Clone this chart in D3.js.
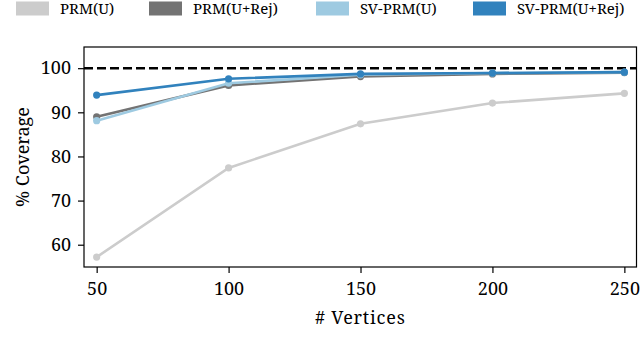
<!DOCTYPE html>
<html>
<head>
<meta charset="utf-8">
<script src="https://cdn.jsdelivr.net/npm/d3@7"></script>
<style>
  body { margin: 0; background: #fff; }
</style>
</head>
<body>
<svg id="chart" width="640" height="357"></svg>
<script>
const vertices = [50, 100, 150, 200, 250]
const seriesNames = ['PRM(U)', 'PRM(U+Rej)', 'SV-PRM(U)', 'SV-PRM(U+Rej)']
const prmU = [57.2, 77.4, 87.4, 92.1, 94.3]
const prmURej = [89.0, 96.1, 98.1, 98.7, 99.0]
const svPrmU = [88.1, 96.6, 98.5, 98.9, 99.1]
const svPrmURej = [93.9, 97.6, 98.7, 98.9, 99.1]
const colors = ['#cccccc', '#737373', '#9ecae1', '#3182bd']
const yTicks = [60, 70, 80, 90, 100]
const xTicks = [50, 100, 150, 200, 250]
const reference = 100

const allSeries = [prmU, prmURej, svPrmU, svPrmURej]
const FONT = 'Noto Serif'

const svg = d3.select('#chart')
const margin = { left: 84, right: 3.5, top: 47, bottom: 90 }
const W = 640, H = 357

const x = d3.scaleLinear().domain([45.2, 254.6]).range([margin.left, W - margin.right])
const y = d3.scaleLinear().domain([54.95, 104.8]).range([H - margin.bottom, margin.top])

// dashed reference line
svg.append('line')
	.attr('x1', x.range()[0]).attr('x2', x.range()[1])
	.attr('y1', y(reference)).attr('y2', y(reference))
	.attr('stroke', '#000')
	.attr('stroke-width', 2.5)
	.attr('stroke-dasharray', '9,4')

const line = d3.line()
	.x((d, i) => x(vertices[i]))
	.y(d => y(d))

allSeries.forEach((s, k) => {
	const g = svg.append('g')
	g.append('path')
		.attr('d', line(s))
		.attr('fill', 'none')
		.attr('stroke', colors[k])
		.attr('stroke-width', 2.6)
	g.selectAll('circle').data(s).join('circle')
		.attr('cx', (d, i) => x(vertices[i]))
		.attr('cy', d => y(d))
		.attr('r', 3.6)
		.attr('fill', colors[k])
})

// frame
svg.append('rect')
	.attr('x', x.range()[0]).attr('y', y.range()[1])
	.attr('width', x.range()[1] - x.range()[0])
	.attr('height', y.range()[0] - y.range()[1])
	.attr('fill', 'none')
	.attr('stroke', '#000')
	.attr('stroke-width', 1.2)

// axes
const xAxis = svg.append('g')
	.attr('transform', `translate(0,${y.range()[0]})`)
	.call(d3.axisBottom(x).tickValues(xTicks).tickSize(6).tickPadding(9))
const yAxis = svg.append('g')
	.attr('transform', `translate(${x.range()[0]},0)`)
	.call(d3.axisLeft(y).tickValues(yTicks).tickSize(6).tickPadding(7))

;[xAxis, yAxis].forEach(a => {
	a.select('.domain').remove()
	a.attr('font-family', null).attr('font-size', null)
	a.selectAll('line').attr('stroke', '#000').attr('stroke-width', 1.2)
	a.selectAll('text')
		.attr('fill', '#000')
		.attr('font-family', FONT)
		.attr('font-size', 18)
})

svg.append('text')
	.attr('x', (x.range()[0] + x.range()[1]) / 2)
	.attr('y', 324)
	.attr('text-anchor', 'middle')
	.attr('font-family', FONT)
	.attr('font-size', 18)
	.attr('letter-spacing', 0.8)
	.text('# Vertices')

svg.append('text')
	.attr('transform', `translate(29,${(y.range()[0] + y.range()[1]) / 2}) rotate(-90)`)
	.attr('text-anchor', 'middle')
	.attr('font-family', FONT)
	.attr('font-size', 18)
	.text('% Coverage')

// legend
const legendX = [16, 149, 316, 473]
const legend = svg.append('g')
seriesNames.forEach((name, k) => {
	legend.append('rect')
		.attr('x', legendX[k]).attr('y', 1.5)
		.attr('width', 33).attr('height', 14)
		.attr('fill', colors[k])
	legend.append('text')
		.attr('x', legendX[k] + 44)
		.attr('y', 14)
		.attr('font-family', FONT)
		.attr('font-size', 15)
		.text(name)
})
</script>
</body>
</html>
